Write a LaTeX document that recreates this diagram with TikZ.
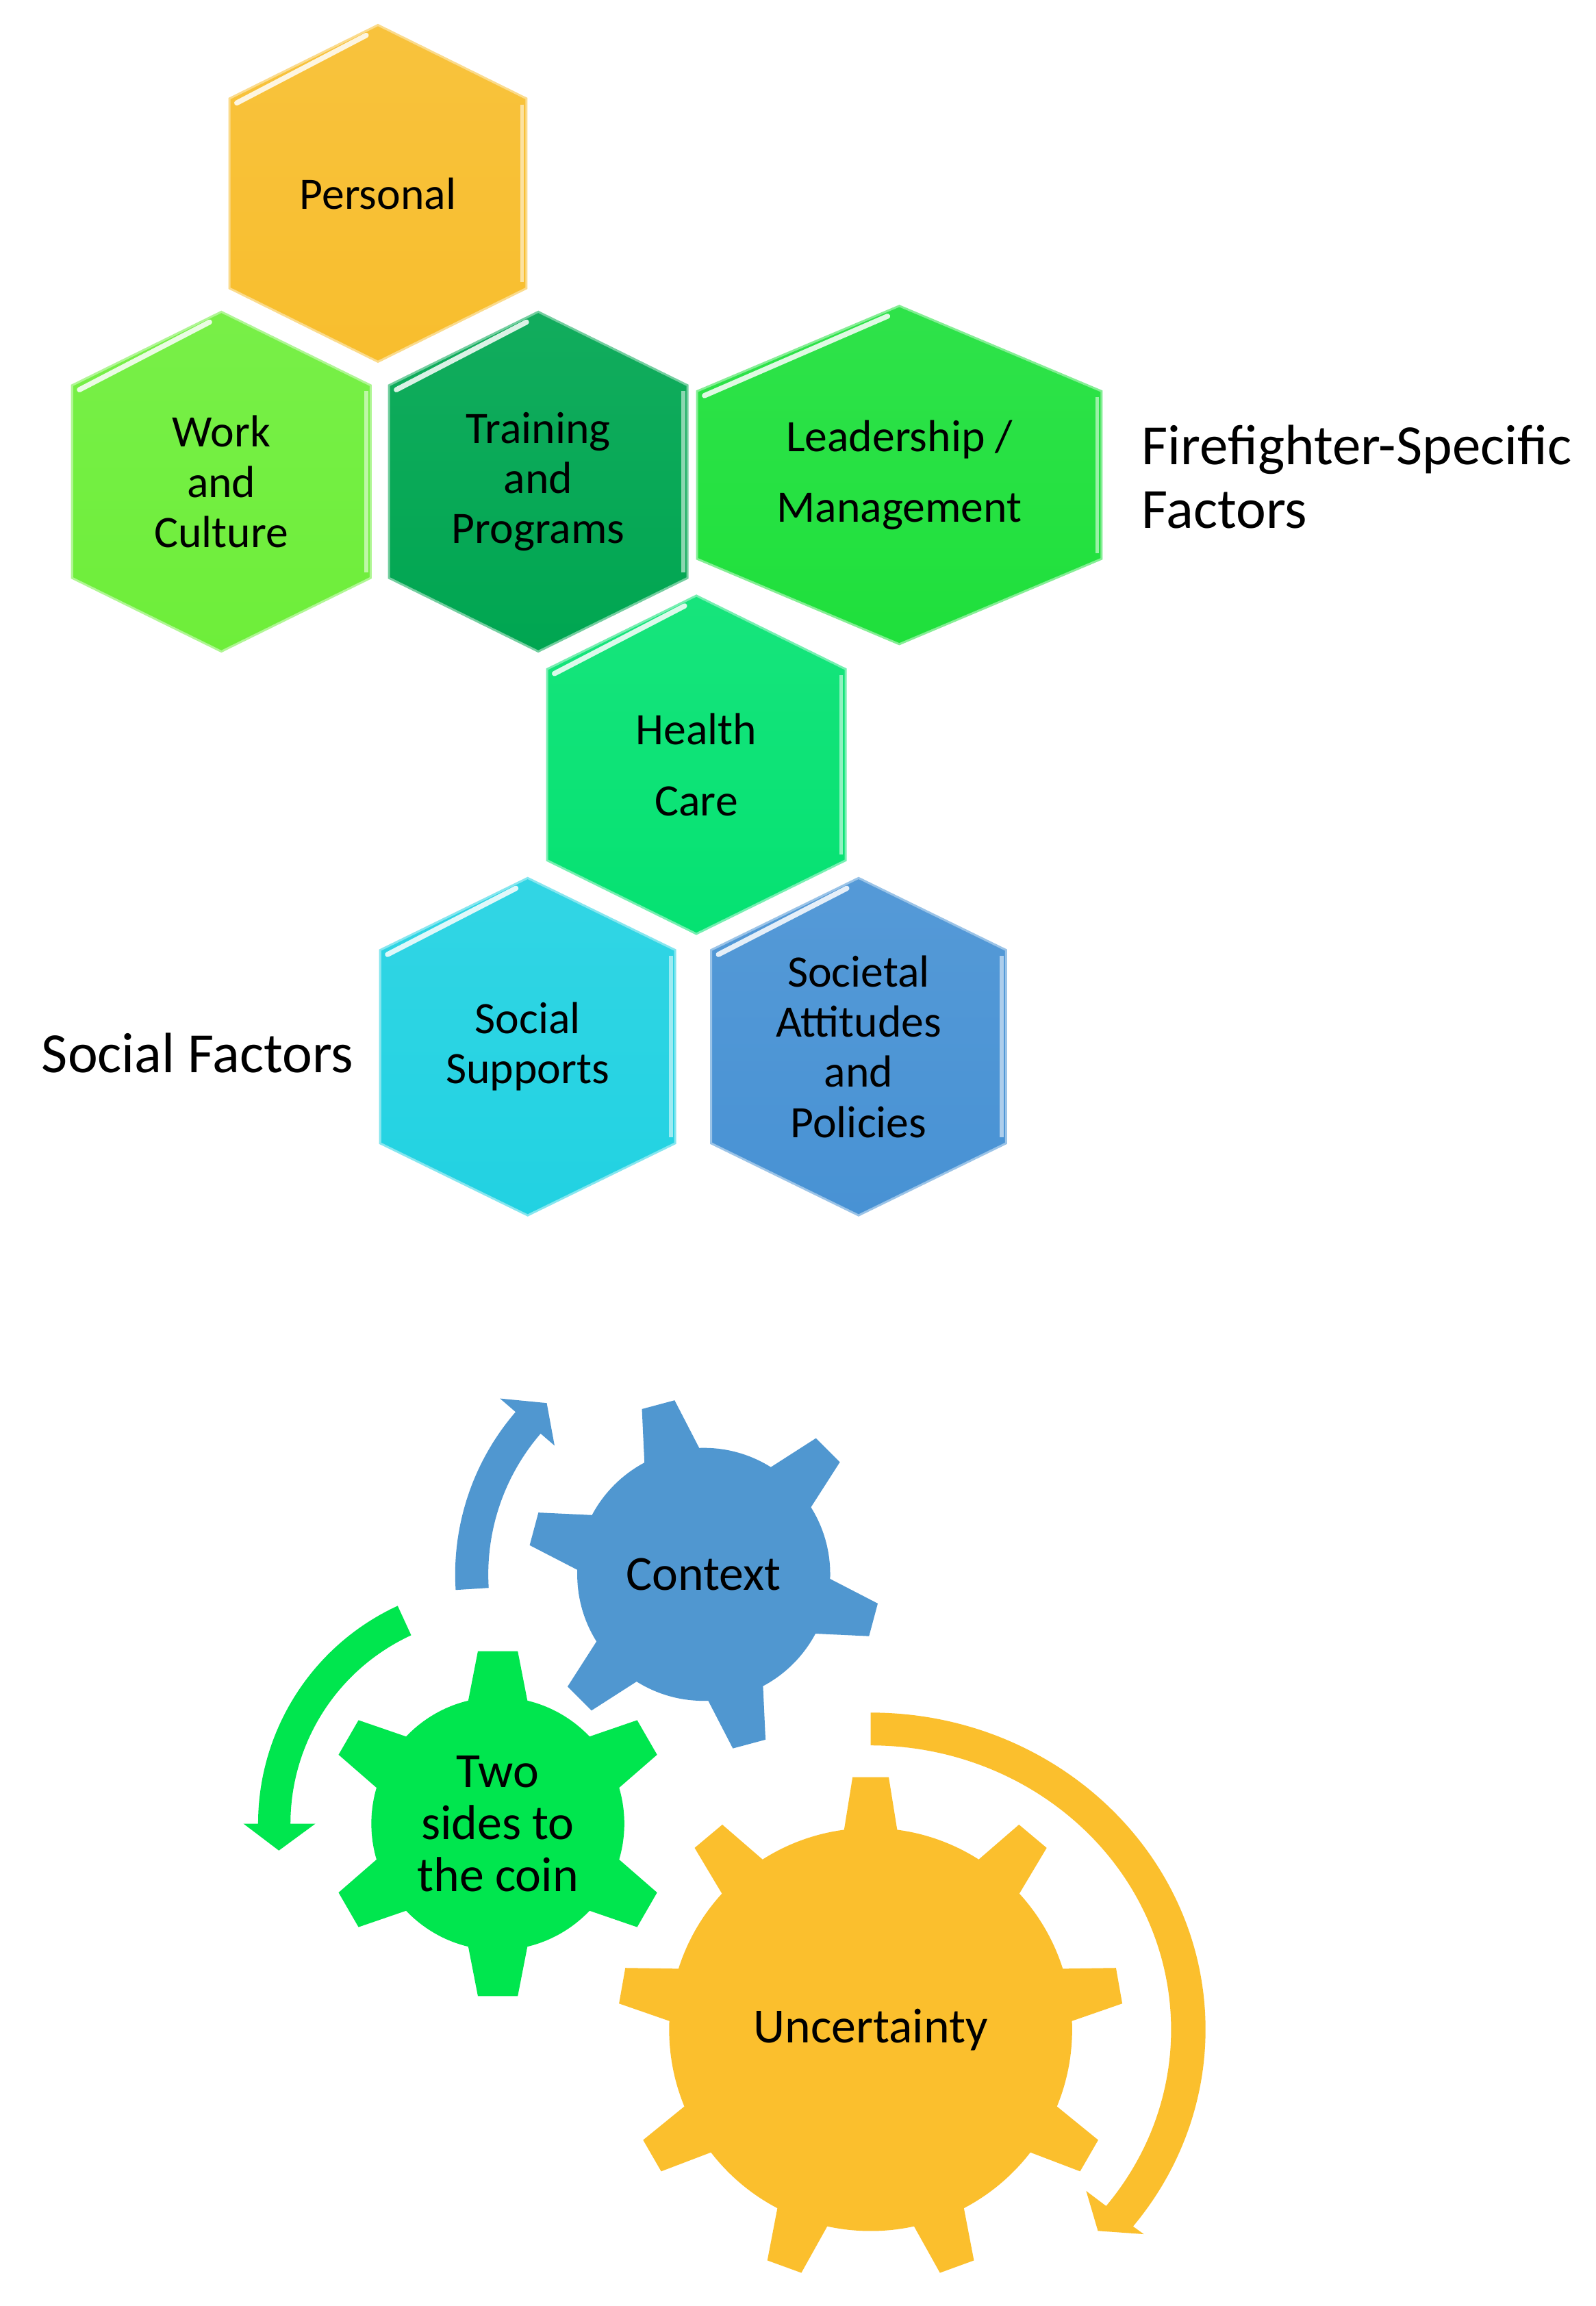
\documentclass[tikz,border=0pt]{standalone}
\usepackage{fontspec}
\setmainfont{Carlito}
\usepackage{tikz}

\definecolor{persgold}{HTML}{F8BE2E}
\definecolor{worklime}{HTML}{6EEE3A}
\definecolor{traingreen}{HTML}{00A651}
\definecolor{leadgreen}{HTML}{1FE03C}
\definecolor{healthmint}{HTML}{05E272}
\definecolor{supportcyan}{HTML}{22D2E2}
\definecolor{policyblue}{HTML}{4892D4}
\definecolor{ctxblue}{HTML}{5097D0}
\definecolor{coingreen}{HTML}{00E64E}
\definecolor{uncgold}{HTML}{FBBF2D}

\tikzset{
    hextext/.style={font=\fontsize{17.4}{19.4}\selectfont, align=center, inner sep=0pt},
    hexwide/.style={font=\fontsize{17.4}{27.3}\selectfont, align=center, inner sep=0pt},
    geartext/.style={font=\fontsize{19}{20.1}\selectfont, align=center, inner sep=0pt},
    sidelabel/.style={font=\fontsize{22}{24.5}\selectfont, align=left, inner sep=0pt, anchor=west}
}

% name, centre x, centre y, half width, half height, point depth, colour, text style, text
\newcommand{\hexcell}[9]{%
    \begin{scope}[shift={(#2,#3)}]
        \shadedraw[top color=#7!93!white, bottom color=#7, draw=#7!55!white, line width=0.8pt]
            (-#4,#5-#6) -- (0,#5) -- (#4,#5-#6) -- (#4,-#5+#6) -- (0,-#5) -- (-#4,-#5+#6) -- cycle;
        \draw[white, opacity=0.85, line width=2pt, line cap=round] (-#4+5,#5-#6-3) -- (-8,#5-7);
        \draw[#7!45!white, line width=1.5pt] (#4-3,#5-#6-4) -- (#4-3,-#5+#6+4);
        \node[#8] (#1) at (0,0) {#9};
    \end{scope}}

\begin{document}
\begin{tikzpicture}[x=0.2mm, y=0.2mm]
    % Page
    \path[use as bounding box, fill=white] (0,0) rectangle (1085,-1568);

    % Hexagons
    \hexcell{personal}{257}{-131.5}{101}{114.5}{50}{persgold}{hextext}{Personal}
    \hexcell{work}{150.5}{-327.5}{101.5}{115.5}{50}{worklime}{hextext}{Work\\and\\Culture}
    \hexcell{training}{366}{-327.5}{101.5}{115.5}{50}{traingreen}{hextext}{Training\\and\\Programs}
    \hexcell{leadership}{611.5}{-323}{137.5}{115}{58}{leadgreen}{hexwide}{Leadership /\\Management}
    \hexcell{health}{473.5}{-520}{101.5}{115}{50}{healthmint}{hexwide}{Health\\Care}
    \hexcell{supports}{358.8}{-711.7}{100.3}{114.7}{49}{supportcyan}{hextext}{Social\\Supports}
    \hexcell{policies}{583.8}{-711.7}{100.3}{114.7}{49}{policyblue}{hextext}{Societal\\Attitudes\\and\\Policies}

    % Side labels
    \node[sidelabel] (ffspecific) at (776,-324.3) {Firefighter-Specific\\Factors};
    \node[sidelabel] (socialfactors) at (28,-716) {Social Factors};

    % Context gear and arrow
    \begin{scope}[shift={(478.5,-1070.5)}]
        \fill[ctxblue] (0,0) circle[radius=86];
        \foreach \a in {45,105,...,345}
            \fill[ctxblue] (\a-15:80) -- (\a-5.5:120) -- (\a+5.5:120) -- (\a+15:80) -- cycle;
        \fill[ctxblue] (183.6:169) arc[start angle=183.6, end angle=139.2, radius=169]
            -- (139.2:183) -- (132.5:158) -- (139.2:134) -- (139.2:146.5)
            arc[start angle=139.2, end angle=183.6, radius=146.5] -- cycle;
        \node[geartext] (context) at (0,0) {Context};
    \end{scope}

    % Two sides gear and arrow
    \begin{scope}[shift={(338.5,-1240)}]
        \fill[coingreen] (0,0) circle[radius=86];
        \foreach \a in {30,90,...,330}
            \fill[coingreen] (\a-15.5:80) -- (\a-6.6:118) -- (\a+6.6:118) -- (\a+15.5:80) -- cycle;
        \fill[coingreen] (114.7:163) arc[start angle=114.7, end angle=180, radius=163]
            -- (180:173) -- (187:150) -- (180:124) -- (180:141)
            arc[start angle=180, end angle=114.7, radius=141] -- cycle;
        \node[geartext] (twosides) at (0,0) {Two\\sides to\\the coin};
    \end{scope}

    % Uncertainty gear and arrow
    \begin{scope}[shift={(592,-1380)}]
        \fill[uncgold] (0,0) circle[radius=137];
        \foreach \a in {10,50,...,330}
            \fill[uncgold] (\a-8.5:130) -- (\a-4.1:172) -- (\a+4.1:172) -- (\a+8.5:130) -- cycle;
        \fill[uncgold] (90:227.7 and 215.5) arc[start angle=90, end angle=-38.4, x radius=227.7, y radius=215.5]
            -- (-38.4:237 and 224) -- (-43.2:212 and 200) -- (-38.4:187 and 176.7) -- (-38.4:204.3 and 193.2)
            arc[start angle=-38.4, end angle=90, x radius=204.3, y radius=193.2] -- cycle;
        \node[geartext] (uncertainty) at (0,0) {Uncertainty};
    \end{scope}
\end{tikzpicture}
\end{document}
